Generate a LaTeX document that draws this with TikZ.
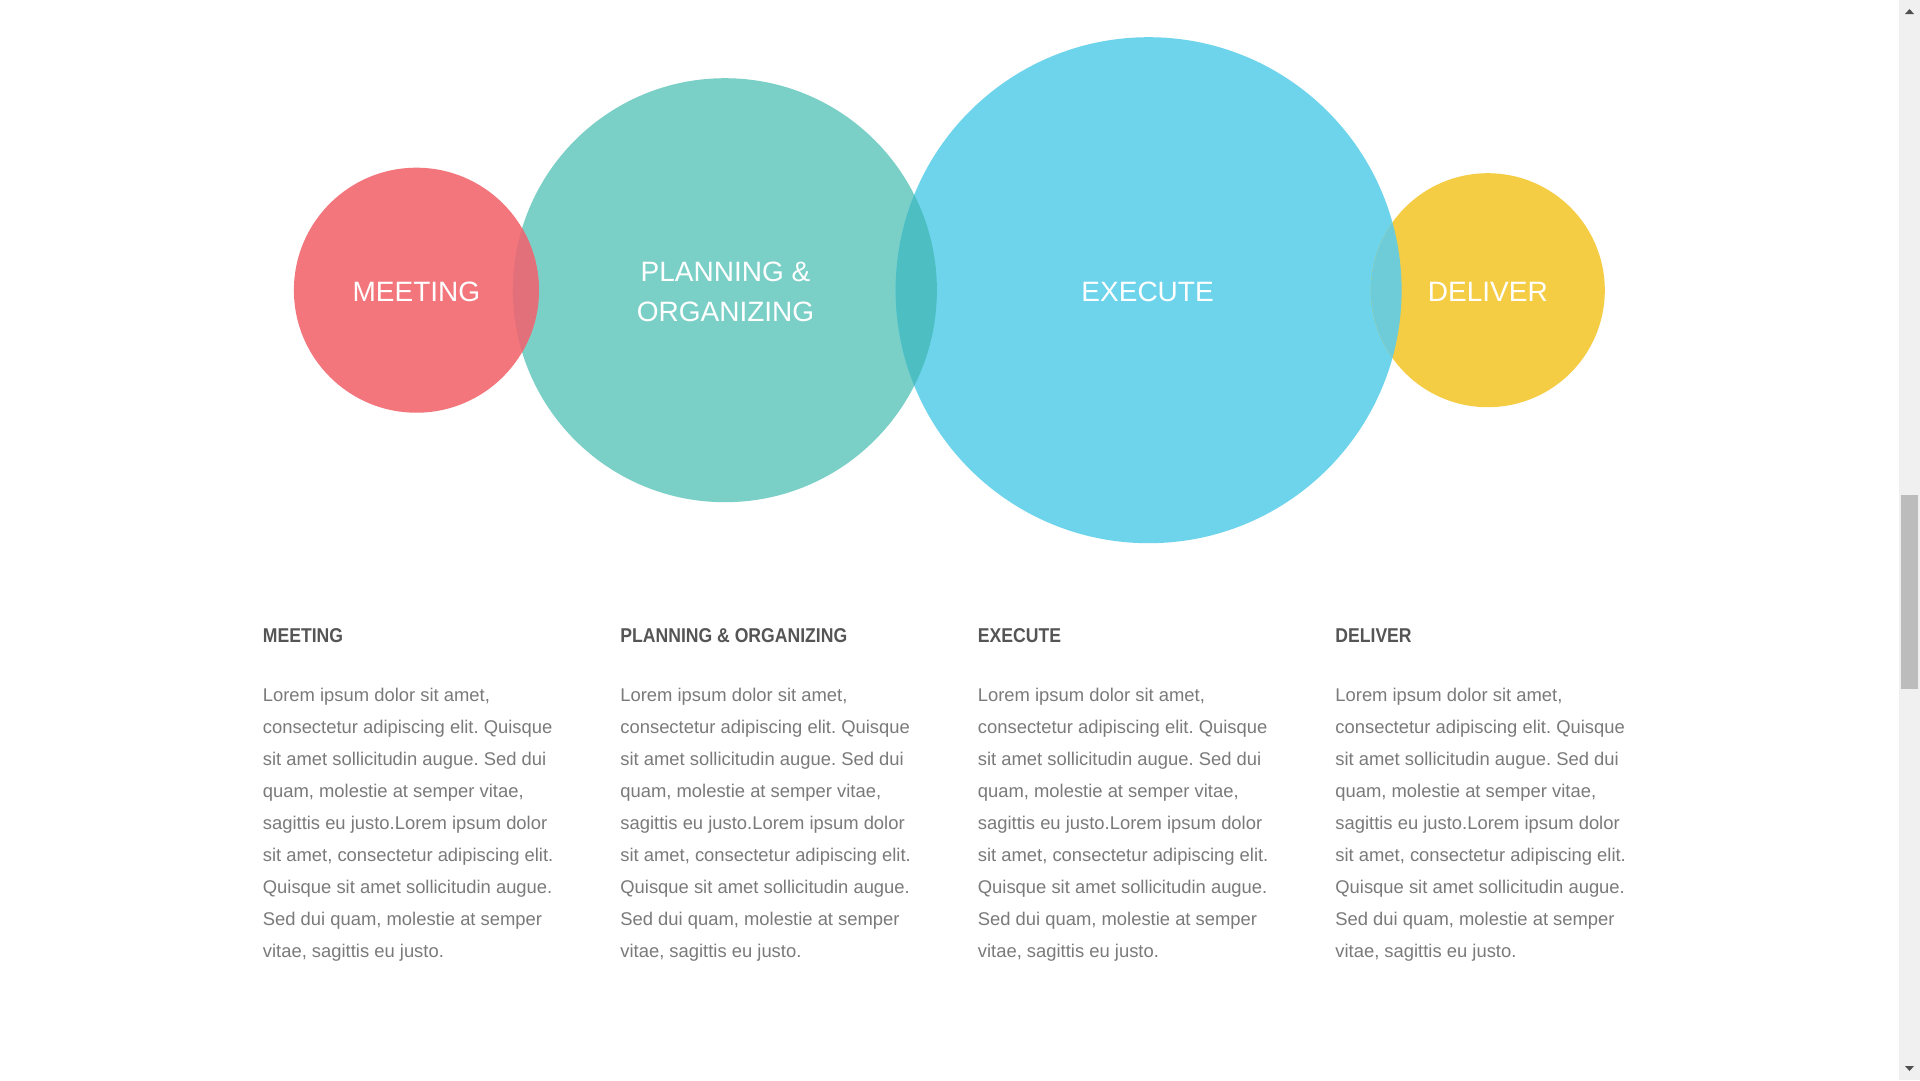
\documentclass[tikz,border=0pt]{standalone}
\usepackage{fontspec}
\setmainfont{Liberation Sans}
\newfontfamily\headfont[FakeStretch=0.88]{Liberation Sans}
\frenchspacing

\definecolor{meetcol}{HTML}{F2767B}
\definecolor{plancol}{HTML}{7ACFC6}
\definecolor{execcol}{HTML}{6DD4EC}
\definecolor{delicol}{HTML}{F5CD45}
\definecolor{mpcol}{HTML}{E2707A}
\definecolor{pecol}{HTML}{4DBFC2}
\definecolor{edcol}{HTML}{6ECCD8}
\definecolor{headcol}{HTML}{555555}
\definecolor{bodycol}{HTML}{7A7A7A}
\definecolor{trackcol}{HTML}{F0F0F0}
\definecolor{thumbcol}{HTML}{BCBCBC}
\definecolor{arrowcol}{HTML}{505050}

\begin{document}
\begin{tikzpicture}[x=1pt,y=-1pt,
  bubble/.style={circle, inner sep=0pt, outer sep=0pt, minimum size=#1},
  bubbletext/.style={anchor=base, text=white, inner sep=0pt,
    font=\fontsize{28}{41}\selectfont},
  colhead/.style={anchor=base west, text=headcol, inner sep=0pt,
    font=\headfont\bfseries\fontsize{20}{24}\selectfont},
  bodyline/.style={anchor=base west, text=bodycol, inner sep=0pt,
    font=\fontsize{18.4}{32}\selectfont}]

\useasboundingbox[fill=white] (0,0) rectangle (1920,1080);

% the four stages as overlapping discs
\node[bubble=424pt, fill=plancol] (plan) at (724.9,290.2) {};
\node[bubble=506pt, fill=execcol] (exec) at (1148.6,290.2) {};
\node[bubble=245pt, fill=meetcol] (meet) at (416.4,290.2) {};
\node[bubble=234pt, fill=delicol] (deli) at (1487.8,290.2) {};

% tinted lenses where neighbouring discs overlap
\begin{scope}
  \clip (plan.center) circle (212pt);
  \fill[mpcol] (meet.center) circle (122.5pt);
\end{scope}
\begin{scope}
  \clip (plan.center) circle (212pt);
  \fill[pecol] (exec.center) circle (253pt);
\end{scope}
\begin{scope}
  \clip (deli.center) circle (117pt);
  \fill[edcol] (exec.center) circle (253pt);
\end{scope}

% disc captions
\node[bubbletext] (meetlbl) at (416.4,301) {MEETING};
\node[bubbletext] (planlbl1) at (725.5,281) {PLANNING \&};
\node[bubbletext] (planlbl2) at (725.5,321.5) {ORGANIZING};
\node[bubbletext] (execlbl) at (1147.6,301) {EXECUTE};
\node[bubbletext] (delilbl) at (1487.8,301) {DELIVER};

% column headings
\node[colhead] (h1) at (262.7,642.3) {MEETING};
\node[colhead] (h2) at (620.2,642.3) {PLANNING \& ORGANIZING};
\node[colhead] (h3) at (977.7,642.3) {EXECUTE};
\node[colhead] (h4) at (1335.2,642.3) {DELIVER};

% body copy, one block per column
\foreach \cx [count=\c] in {262.7,620.2,977.7,1335.2}{
  \foreach \t [count=\i] in {
    {Lorem ipsum dolor sit amet,},
    {consectetur adipiscing elit. Quisque},
    {sit amet sollicitudin augue. Sed dui},
    {quam, molestie at semper vitae,},
    {sagittis eu justo.Lorem ipsum dolor},
    {sit amet, consectetur adipiscing elit.},
    {Quisque sit amet sollicitudin augue.},
    {Sed dui quam, molestie at semper},
    {vitae, sagittis eu justo.}}{
    \node[bodyline] (b\c-\i) at (\cx,{701+32*(\i-1)}) {\t};
  }
}

% window scrollbar
\fill[trackcol] (1899,0) rectangle (1920,1080);
\fill[thumbcol] (1901,495) rectangle (1918,689);
\fill[arrowcol] (1905,14) -- (1914,14) -- (1909.5,9) -- cycle;
\fill[arrowcol] (1905,1066) -- (1914,1066) -- (1909.5,1071) -- cycle;
\end{tikzpicture}
\end{document}
